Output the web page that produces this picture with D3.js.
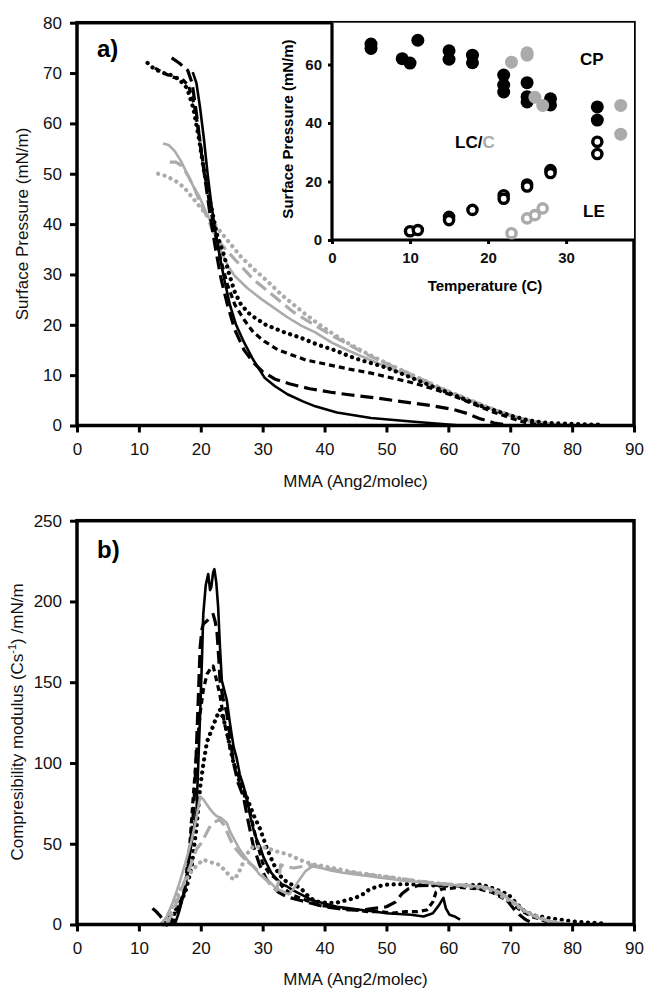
<!DOCTYPE html>
<html>
<head>
<meta charset="utf-8">
<script src="https://cdn.jsdelivr.net/npm/d3@7"></script>
<style>
  body { margin: 0; background: #fff; }
  svg { display: block; font-family: "Liberation Sans", Arial, sans-serif; }
</style>
</head>
<body>
<div id="chart"></div>
<script>
// --- data: panel a) isotherms, [MMA, surface pressure]
const isoBlackSolid = [[18.7,70.2],[19.3,68],[19.9,63],[20.5,57],[21.1,50],[21.7,44],[22.3,39],[23,34],[23.8,29],[24.7,24],[25.7,20],[27,16.5],[28.5,13],[30.3,9.5],[32,7.8],[34,6.2],[36.5,4.8],[38.5,3.8],[42,2.6],[47.5,1.5],[54,0.8],[58,0.4],[62,0]];
const isoBlackLongDash = [[15.3,73],[16.5,72],[17.9,70.5],[18.6,68],[19.3,62],[20,55],[20.8,48],[21.6,41],[22.4,35],[23.3,29],[24.3,24],[25.5,19],[27,15],[28.5,12.5],[30,10.7],[32,9.2],[34.3,8.3],[37.6,7.3],[41,6.6],[44,6.1],[47.5,5.6],[51,5],[54,4.5],[57.5,3.9],[60.8,3.2],[63,2.4],[65,1.4],[67.4,0.5],[70,0]];
const isoBlackShortDash = [[12.6,71],[14,70],[15.5,69.2],[17,68.8],[18,67.5],[18.9,64],[19.7,58],[20.5,51],[21.3,45],[22.2,39],[23.2,33],[24.3,28],[25.5,24],[27,21],[28.5,18.5],[30.3,16.7],[32.5,15],[34.3,14.2],[37,13],[40.9,12],[44,11.2],[47.5,10.4],[51,9.4],[54.2,8.5],[57.5,7.3],[60.8,5.9],[64,4.3],[67.4,2.6],[70.8,1.2],[73,0.4],[76,0]];
const isoBlackDotted = [[11.4,72],[12.5,70.8],[14,70],[15.5,69.5],[16.6,68.6],[17.8,67],[18.8,63],[19.7,57],[20.6,50],[21.6,44],[22.6,38],[23.7,34],[24.6,30],[25.5,26.5],[26.5,24],[28,22],[30.5,20],[33.5,18.5],[36,17.5],[39,16],[41.5,15],[45,13.3],[50,11.5],[55,9],[60,6.5],[65,4],[70,2],[73,1],[76,0.5],[80,0.3],[83,0.2],[85,0.2]];
const isoGraySolid = [[13.9,56],[14.8,55.7],[15.8,54.5],[16.8,52.5],[17.8,50],[18.8,47.5],[19.8,45.4],[20.8,42.5],[21.8,40],[22.6,37],[23.5,34],[24.5,31.5],[25.5,29.7],[27.5,27.3],[29.8,25.1],[32,23.2],[34,21.5],[36.3,19.8],[38.5,18.5],[41.1,16.5],[44,14.8],[47,13.2],[50,11.7],[53,10.2],[56,8.6],[59,7],[62,5.6],[65,4.2],[68,2.8],[71,1.6],[74,0.7],[77,0.2],[80,0]];
const isoGrayDash = [[15,52.3],[16,52.3],[17,51.5],[18,49.5],[19,47],[20,44],[21,41.5],[22,38.5],[23,36.5],[24,35],[25.5,33],[27,31],[28.5,29],[30,27.5],[31.5,26],[33,24.5],[35,22.5],[37,21],[39,19.5],[41,18],[44,16],[47,14],[50,12.3],[53,10.7],[56,9],[59,7.3],[62,5.8],[65,4.3],[68,2.9],[71,1.6],[74,0.6],[77,0.1],[79,0]];
const isoGrayDotted = [[13.1,50],[14.5,49.5],[16,48.5],[17.3,47.3],[18.5,45.5],[19.5,44],[20.5,42.5],[21.5,41],[22.5,39.5],[23.5,38],[24.5,36.5],[25.5,35],[26.5,33.5],[27.5,32.3],[28.6,31],[30,29.5],[31.5,27.8],[33,26],[35,24],[37,22],[39,20.2],[41,18.5],[44,16.2],[47,14.2],[50,12.4],[53,10.7],[56,9],[59,7.3],[62,5.8],[65,4.3],[68,2.9],[71,1.6],[74,0.7],[77,0.2],[80,0]];

// --- data: panel b) compressibility modulus, [MMA, Cs^-1]
const csBlackSolid = [[15.8,0],[16.5,8],[17.2,18],[17.7,28],[18.3,45],[18.8,58],[19.3,69],[19.6,100],[19.9,131],[20.2,165],[20.4,192],[20.8,210],[21.2,217],[21.5,207],[21.7,209],[22,218],[22.2,220],[22.5,212],[22.8,197],[23.1,172],[23.4,151],[23.8,145],[24.2,139],[24.7,125],[25.3,110],[25.8,103],[26.3,93],[26.8,87],[27.4,79],[28,67],[28.5,59],[29,53],[29.6,48],[30.1,42],[30.6,38],[31.4,32],[32.3,28],[33.1,25],[33.9,23.7],[35,21],[36.5,18],[38,15],[40,13],[42,11],[44,10],[46,9],[48,8],[50,7],[52,6.5],[54,6],[56,5],[57.5,7],[58.5,12],[59.2,16.5],[59.6,10],[60.2,6],[61,5],[61.9,3]];
const csBlackLongDash = [[12.2,10],[12.8,8],[13.5,5],[14.3,1],[15,0],[15.8,3],[16.5,10],[17.2,18],[17.7,28],[18.2,45],[18.8,69],[19.1,90],[19.3,110],[19.6,140],[19.9,172],[20.2,183],[20.4,186],[21,188],[21.5,190],[22,192],[22.3,188],[22.6,182],[22.9,165],[23.1,151],[23.6,140],[24.2,131],[24.7,117],[25.3,100],[26,88],[26.9,79],[27.6,65],[28.5,48.5],[29.5,37],[30.6,28],[31.5,24],[32.5,20],[34,17],[36,15],[38,13],[40,11],[42,10],[44,9],[46,9],[48,10],[50,11],[51.5,14],[52.5,19],[53.5,22],[55,24],[58,24.5],[61,24],[64,23],[66,22],[68,19],[69.5,15],[70.5,10],[71.5,6],[72.5,3],[73.5,1],[74,0]];
const csBlackShortDash = [[13.5,0],[14.5,3],[15.5,7],[16.5,12],[17.3,20],[18.2,48],[18.8,80],[19.3,105],[19.9,131],[20.4,145],[21,155],[21.5,158],[22,160],[22.5,152],[23.1,142],[23.8,125],[24.7,110],[25.5,98],[26.3,90],[27.2,78],[28,69],[29,52],[30,38],[31,32],[32.3,27.8],[33.5,22],[35,18],[37,15],[39,12],[41,11],[43,10],[45,9],[47,8],[49,8],[51,7],[53,8],[55,8],[56.5,9],[57.5,14],[58,20],[59,22],[62,23],[65,22],[67,20],[69,16],[70.5,12],[72,8],[73.5,5],[75,3],[76.5,1],[77.5,0]];
const csBlackDotted = [[14.5,0],[15.5,5],[16.5,12],[17.5,20],[18.5,35],[19.3,60],[19.9,85],[20.4,99],[21,113],[21.5,118],[22,123],[22.5,128],[23.1,133],[23.6,128],[24.2,120],[24.7,110],[25.3,100],[26.3,88],[27.4,79],[28.5,68],[29.6,59],[30.6,48],[31.7,38],[32.5,32],[33.3,28],[34.5,25],[36,23],[37.5,17],[38.5,14.4],[40,13.5],[41.8,13.4],[43.5,15],[45,16.5],[46.3,19],[47.2,21.6],[48.5,23.5],[50,24.7],[53,25],[56,24.5],[59,24],[62,24],[65.4,24.7],[67.5,22],[69.7,18.6],[71,13],[72.4,8],[74,5.5],[76.2,4],[78,3],[80,2],[82,1.3],[84.2,1],[85,0.5]];
const csGraySolid = [[13.5,0],[14.5,5],[15.5,14],[16.5,25],[17.5,38],[18.5,52],[19.3,66],[19.9,79.3],[20.5,77],[21.2,73],[22,69],[22.6,67],[23.3,66],[24.2,62.9],[24.8,57],[25.5,52],[26.3,46.4],[27.3,41],[28.5,36],[29.5,31],[30.6,27.8],[31.5,25],[32.3,22],[33.2,20.6],[34.2,18.6],[35,22],[35.8,27],[36.9,33],[38,36],[39.5,35],[41,33.5],[43,32],[45,31],[47,30],[49,29],[51,28],[53,27],[55,26.5],[57,25.5],[59,25],[61,24.5],[63,24],[65,23.5],[67,22],[68.5,19],[70,15],[71.5,11],[73,7],[74.5,4],[76,2.5],[78,1],[79.5,0]];
const csGrayDash = [[14.5,0],[15.5,8],[16.5,18],[17.5,28],[18.5,38],[19.3,46.6],[20,50],[20.7,55],[21.4,60],[22,62.9],[23,65],[23.7,62],[24.5,55],[25.3,48.5],[26.5,43],[27.5,39],[28.5,36],[29.5,32],[30.5,28],[31.5,24],[32.2,21],[32.6,27],[32.9,37],[33.5,36],[35,35],[36.5,36],[38,37],[40,35],[42,33.5],[44,32.5],[46,31.5],[48,30.5],[50,29.5],[52,28.5],[54,27.5],[56,26.5],[58,25.5],[60,25],[62,24.5],[64,24],[66,23],[68,20.5],[69.5,17],[71,12.5],[72.5,8],[74,5],[75.5,3],[77,1],[78,0]];
const csGrayDotted = [[14,0],[15,6],[15.6,13],[16.5,20],[17.5,27],[18.5,33],[19.5,37],[20.4,40.1],[21.2,39],[22,38.1],[23,37],[24,33],[24.7,30],[25.3,27.8],[26,31],[26.7,37],[27.3,43],[28.5,48.5],[29.5,48],[30.6,47.5],[32.1,45.4],[33.5,44],[34.8,42.3],[36,40],[37.5,38],[38.5,37],[40,36],[42,34.5],[43.9,33],[46,31.5],[49.3,30],[52,28.5],[54.7,26.8],[57,26],[60,24.7],[63,23.8],[65.4,22.7],[67,21],[68.1,18.6],[69.5,15.5],[70.8,12.4],[72,9],[73.5,6.2],[75,4],[76.2,2],[78,1],[80,0]];

// --- data: inset, [temperature, pressure]
const transBlackFilled = [[5,67],[5,65.5],[9,62],[10,60.5],[11,68.3],[15,64.7],[15,61.8],[18,63.2],[18,60.6],[22,56.4],[22,53],[22,50.6],[25,53.8],[25,49],[25,47.2],[28,48.3],[28,46.2],[34,45.5],[34,41]];
const transGrayFilled = [[23,60.8],[25,64],[25,63.2],[26,48.8],[27,46],[37,46],[37,36.2]];
const transBlackOpen = [[10,3],[11,3.4],[15,7.9],[15,6.8],[18,10.3],[22,15.3],[22,14.1],[25,19],[25,18.3],[28,23.9],[28,22.9],[34,33.6],[34,29.4]];
const transGrayOpen = [[23,2.3],[25,7.4],[26,8.5],[27,10.8]];

const mmaTicks = [0,10,20,30,40,50,60,70,80,90];
const piTicks = [0,10,20,30,40,50,60,70,80];
const csTicks = [0,50,100,150,200,250];
const insetXTicks = [0,10,20,30];
const insetYTicks = [0,20,40,60];

const black = "#000", gray = "#ababab";
const styles = {
  solid:  { w: 2.6, dash: null, cap: "butt" },
  long:   { w: 3.2, dash: "13,6", cap: "butt" },
  short:  { w: 3.2, dash: "6,4", cap: "butt" },
  dotted: { w: 4.2, dash: "0.1,6.5", cap: "round" }
};

const isoSeries = [
  { d: isoGraySolid, c: gray, s: "solid" },
  { d: isoGrayDash, c: gray, s: "long" },
  { d: isoGrayDotted, c: gray, s: "dotted" },
  { d: isoBlackSolid, c: black, s: "solid" },
  { d: isoBlackLongDash, c: black, s: "long" },
  { d: isoBlackShortDash, c: black, s: "short" },
  { d: isoBlackDotted, c: black, s: "dotted" }
];
const csSeries = [
  { d: csBlackSolid, c: black, s: "solid" },
  { d: csBlackLongDash, c: black, s: "long" },
  { d: csBlackShortDash, c: black, s: "short" },
  { d: csBlackDotted, c: black, s: "dotted" },
  { d: csGraySolid, c: gray, s: "solid" },
  { d: csGrayDash, c: gray, s: "long" },
  { d: csGrayDotted, c: gray, s: "dotted" }
];

const W = 646, H = 989;
const svg = d3.select("#chart").append("svg").attr("width", W).attr("height", H);

const xA = d3.scaleLinear().domain([0, 90]).range([77, 634]);
const yA = d3.scaleLinear().domain([0, 80]).range([425.5, 22.7]);
const xB = d3.scaleLinear().domain([0, 90]).range([77, 634]);
const yB = d3.scaleLinear().domain([0, 250]).range([924.5, 520.7]);
const xI = d3.scaleLinear().domain([0, 38.7]).range([332, 634]);
const yI = d3.scaleLinear().domain([0, 74.3]).range([240, 22.7]);

function drawLines(g, series, x, y) {
  const line = d3.line().x(d => x(d[0])).y(d => y(d[1]));
  series.forEach(sr => {
    const st = styles[sr.s];
    g.append("path")
      .attr("d", line(sr.d))
      .attr("fill", "none")
      .attr("stroke", sr.c)
      .attr("stroke-width", st.w)
      .attr("stroke-dasharray", st.dash)
      .attr("stroke-linecap", st.cap)
      .attr("stroke-linejoin", "round");
  });
}

function frame(x, y, xt, yt, sw) {
  const g = svg.append("g");
  const ax = g.append("g").attr("transform", `translate(0,${y.range()[0]})`)
    .call(d3.axisBottom(x).tickValues(xt).tickSize(7).tickSizeOuter(0).tickPadding(10));
  const ay = g.append("g").attr("transform", `translate(${x.range()[0]},0)`)
    .call(d3.axisLeft(y).tickValues(yt).tickSize(7).tickSizeOuter(0).tickPadding(8));
  [ax, ay].forEach(a => {
    a.select(".domain").remove();
    a.selectAll(".tick line").attr("stroke", "#000").attr("stroke-width", 3);
    a.selectAll(".tick text").attr("fill", "#111").style("font-size", "17px");
  });
  g.append("rect")
    .attr("x", x.range()[0]).attr("y", y.range()[1])
    .attr("width", x.range()[1] - x.range()[0])
    .attr("height", y.range()[0] - y.range()[1])
    .attr("fill", "none").attr("stroke", "#000").attr("stroke-width", sw);
  return g;
}

// panel a
drawLines(svg.append("g"), isoSeries, xA, yA);
frame(xA, yA, mmaTicks, piTicks, 3.5);

// panel b
drawLines(svg.append("g"), csSeries, xB, yB);
frame(xB, yB, mmaTicks, csTicks, 3.5);

// inset
const ins = svg.append("g");
ins.append("rect").attr("x", xI(0)).attr("y", yI(74.3))
  .attr("width", xI(38.7) - xI(0)).attr("height", yI(0) - yI(74.3))
  .attr("fill", "#fff");
const ix = ins.append("g").attr("transform", `translate(0,${yI(0)})`)
  .call(d3.axisBottom(xI).tickValues(insetXTicks).tickSize(4).tickSizeOuter(0).tickPadding(8));
const iy = ins.append("g").attr("transform", `translate(${xI(0)},0)`)
  .call(d3.axisLeft(yI).tickValues(insetYTicks).tickSize(4).tickSizeOuter(0).tickPadding(6));
[ix, iy].forEach(a => {
  a.select(".domain").remove();
  a.selectAll(".tick line").attr("stroke", "#000").attr("stroke-width", 3);
  a.selectAll(".tick text").attr("fill", "#111").style("font-size", "15px").style("font-weight", "bold");
});
ins.append("path")
  .attr("d", `M${xI(0)},${yI(74.3)}V${yI(0)}H${xI(38.7)}`)
  .attr("fill", "none").attr("stroke", "#000").attr("stroke-width", 3.2);

function dots(data, color, open) {
  ins.append("g").selectAll("circle").data(data).join("circle")
    .attr("cx", d => xI(d[0])).attr("cy", d => yI(d[1]))
    .attr("r", open ? 4.6 : 6.5)
    .attr("fill", open ? "#fff" : color)
    .attr("stroke", open ? color : "none")
    .attr("stroke-width", open ? 3.4 : 0);
}
dots(transBlackFilled, black, false);
dots(transGrayFilled, gray, false);
dots(transBlackOpen, black, true);
dots(transGrayOpen, gray, true);

ins.append("text").attr("x", 580).attr("y", 65).text("CP")
  .style("font-size", "17px").style("font-weight", "bold");
ins.append("text").attr("x", 583).attr("y", 217).text("LE")
  .style("font-size", "17px").style("font-weight", "bold");
const lc = ins.append("text").attr("x", 455).attr("y", 148)
  .style("font-size", "17px").style("font-weight", "bold");
lc.append("tspan").text("LC/");
lc.append("tspan").attr("fill", gray).text("C");
ins.append("text").attr("x", 485).attr("y", 291).attr("text-anchor", "middle")
  .style("font-size", "15px").style("font-weight", "bold").text("Temperature (C)");
ins.append("text").attr("transform", "translate(293,129) rotate(-90)").attr("text-anchor", "middle")
  .style("font-size", "15px").style("font-weight", "bold").text("Surface Pressure (mN/m)");

// titles
svg.append("text").attr("x", 97).attr("y", 57).text("a)")
  .style("font-size", "24px").style("font-weight", "bold");
svg.append("text").attr("x", 97).attr("y", 558).text("b)")
  .style("font-size", "24px").style("font-weight", "bold");
svg.append("text").attr("x", 355.5).attr("y", 487).attr("text-anchor", "middle")
  .attr("fill", "#111").style("font-size", "17px").text("MMA (Ang2/molec)");
svg.append("text").attr("x", 355.5).attr("y", 985).attr("text-anchor", "middle")
  .attr("fill", "#111").style("font-size", "17px").text("MMA (Ang2/molec)");
svg.append("text").attr("transform", "translate(28,224) rotate(-90)").attr("text-anchor", "middle")
  .attr("fill", "#111").style("font-size", "17px").text("Surface Pressure (mN/m)");
const cst = svg.append("text").attr("transform", "translate(23,722) rotate(-90)").attr("text-anchor", "middle")
  .attr("fill", "#111").style("font-size", "17px");
cst.append("tspan").text("Compresibility modulus (Cs");
cst.append("tspan").attr("dy", -7).style("font-size", "11px").text("-1");
cst.append("tspan").attr("dy", 7).text(") /mN/m");
</script>
</body>
</html>
